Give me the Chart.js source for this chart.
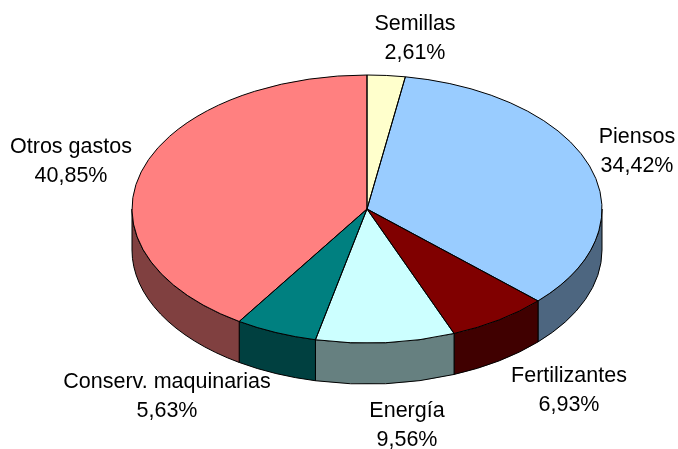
<!DOCTYPE html>
<html>
<head>
<meta charset="utf-8">
<script src="https://cdn.jsdelivr.net/npm/chart.js@4"></script>
<style>
    html, body { margin: 0; padding: 0; background: #fff; }
    canvas { display: block; }
</style>
</head>
<body>
<canvas id="gastosChart" width="678" height="449"></canvas>
<script>
const categories = ['Semillas', 'Piensos', 'Fertilizantes', 'Energía', 'Conserv. maquinarias', 'Otros gastos'];
const percentages = [2.61, 34.42, 6.93, 9.56, 5.63, 40.85];
const topColors = ['#FFFFCC', '#99CCFF', '#800000', '#CCFFFF', '#008080', '#FF8080'];
const wallColors = ['#808066', '#4D6680', '#400000', '#668080', '#004040', '#804040'];

// label centres, same order as categories
const labelX = [415, 637, 569, 407, 167, 71];
const labelY = [24, 137, 376, 411, 382, 147];
const lineGap = 29;

const squash = 134 / 235;
const depth = 41;

const pie3d = {
    id: 'pie3d',
    beforeDatasetsDraw(chart) {
        const ctx = chart.ctx;
        const arcs = chart.getDatasetMeta(0).data;
        ctx.save();
        ctx.lineWidth = 1;
        ctx.strokeStyle = '#000';
        arcs.forEach((arc, i) => {
            // only the front half of the rim can be seen
            const start = Math.max(arc.startAngle, 0);
            const end = Math.min(arc.endAngle, Math.PI);
            if (start >= end) return;
            const r = arc.outerRadius;
            ctx.beginPath();
            ctx.ellipse(arc.x, arc.y, r, r * squash, 0, start, end);
            ctx.ellipse(arc.x, arc.y + depth, r, r * squash, 0, end, start, true);
            ctx.closePath();
            ctx.fillStyle = wallColors[i];
            ctx.fill();
            ctx.stroke();
        });
        ctx.restore();

        // squash the round pie into the top face
        const first = arcs[0];
        ctx.save();
        ctx.translate(first.x, first.y);
        ctx.scale(1, squash);
        ctx.translate(-first.x, -first.y);
    },
    afterDatasetsDraw(chart) {
        const ctx = chart.ctx;
        ctx.restore();

        ctx.save();
        ctx.lineWidth = 1;
        ctx.strokeStyle = '#000';
        chart.getDatasetMeta(0).data.forEach(arc => {
            const r = arc.outerRadius;
            ctx.beginPath();
            ctx.moveTo(arc.x, arc.y);
            ctx.ellipse(arc.x, arc.y, r, r * squash, 0, arc.startAngle, arc.endAngle);
            ctx.closePath();
            ctx.stroke();
        });

        ctx.fillStyle = '#000';
        ctx.font = '21.5px "Liberation Sans"';
        ctx.textAlign = 'center';
        ctx.textBaseline = 'middle';
        categories.forEach((name, i) => {
            ctx.fillText(name, labelX[i], labelY[i]);
            ctx.fillText(percentages[i].toFixed(2).replace('.', ',') + '%', labelX[i], labelY[i] + lineGap);
        });
        ctx.restore();
    }
};

new Chart(document.getElementById('gastosChart'), {
    type: 'pie',
    data: {
        labels: categories,
        datasets: [{
            data: percentages,
            backgroundColor: topColors,
            borderWidth: 0,
            clip: false
        }]
    },
    options: {
        responsive: false,
        animation: false,
        radius: 235,
        layout: { padding: { left: 56, bottom: 31 } },
        plugins: {
            legend: { display: false },
            tooltip: { enabled: false }
        }
    },
    plugins: [pie3d]
});
</script>
</body>
</html>
